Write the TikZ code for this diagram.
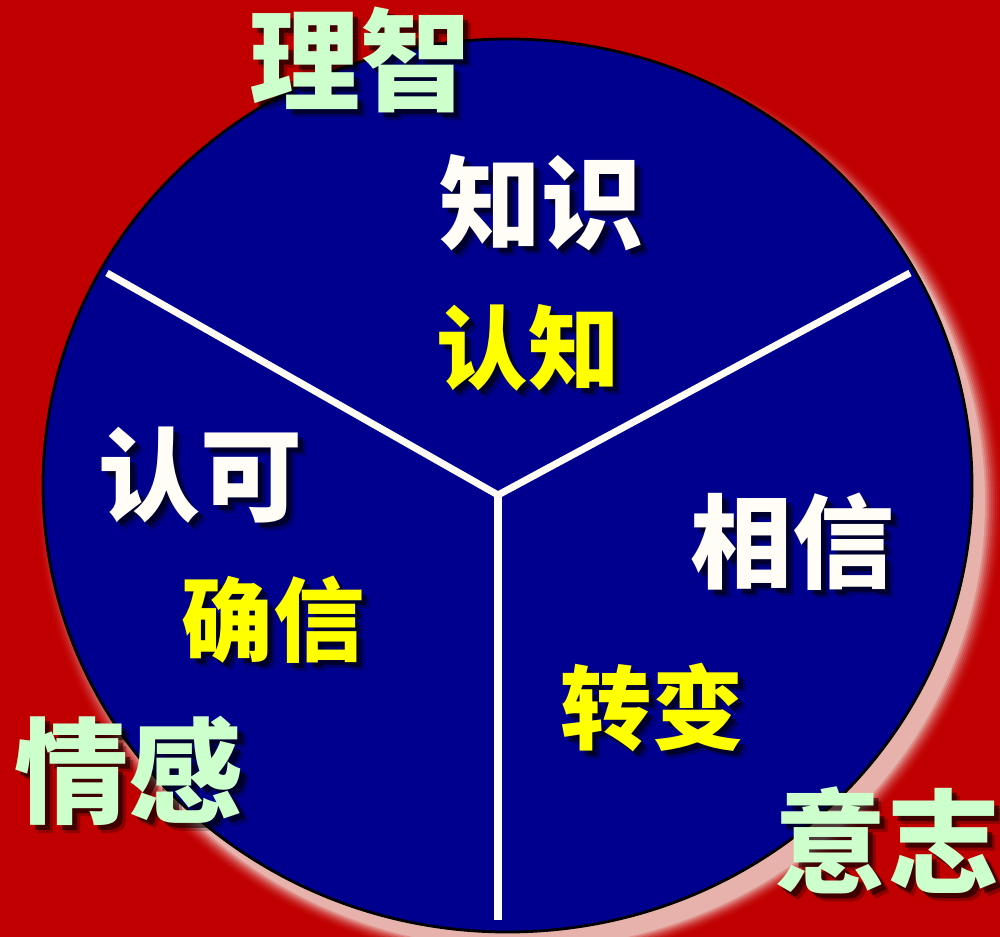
\documentclass[tikz,border=0pt]{standalone}
\usepackage{fontspec}
\newfontfamily\cjk{Noto Sans CJK SC}
\usetikzlibrary{positioning}

\definecolor{bgred}{RGB}{192,0,0}
\definecolor{discblue}{RGB}{0,0,142}
\definecolor{palegreen}{RGB}{204,255,204}
\definecolor{glowpink}{RGB}{232,178,172}
\definecolor{offwhite}{RGB}{255,253,245}
\definecolor{brightyellow}{RGB}{255,255,0}

\begin{document}
\begin{tikzpicture}[x=0.01cm,y=-0.01cm,
    word/.style={inner sep=0pt},
    shade/.style={word, text=black},
    divider/.style={draw=offwhite, line width=2pt}]
    % Frame and red background
    \useasboundingbox (0,0) rectangle (1000,937);
    \clip (0,0) rectangle (1000,937);
    \fill[bgred] (0,0) rectangle (1000,937);

    % Pink glow behind the disc
    \foreach \i [evaluate=\i as \pct using int(\i*\i)] in {0,...,10}
        \fill[glowpink!\pct!bgred] (520,502) ellipse [x radius=485-2*\i, y radius=462-1.5*\i];

    % Blue disc and its three parts
    \coordinate (disc) at (507.5,485.5);
    \draw[fill=discblue, line width=0.8pt] (disc) ellipse [x radius=464.5, y radius=446.5];
    \coordinate (hub) at (498,495);
    \coordinate (endL) at (107,273);
    \coordinate (endR) at (910,273);
    \coordinate (endB) at (498,920);
    \draw[divider] (hub) -- (endL);
    \draw[divider] (hub) -- (endR);
    \draw[divider] (hub) -- (endB);

    % Words, each with a drop shadow
    \foreach \nm/\x/\y/\sz/\col/\txt in {
        lizhi/360/60/31.5/palegreen/理智,
        zhishi/541/203/29/offwhite/知识,
        renzhi/528/348/26/brightyellow/认知,
        renke/200/475/29/offwhite/认可,
        quexin/273/620/26/brightyellow/确信,
        xiangxin/792/542/29/offwhite/相信,
        zhuanbian/652/708/26/brightyellow/转变,
        qinggan/129/771/32.5/palegreen/情感,
        yizhi/887/840/32/palegreen/意志}
    {
        \node[shade, opacity=0.25, font=\cjk\bfseries\fontsize{\sz pt}{\sz pt}\selectfont] at (\x+8,\y+8) {\txt};
        \node[shade, opacity=0.55, font=\cjk\bfseries\fontsize{\sz pt}{\sz pt}\selectfont] at (\x+5,\y+5) {\txt};
        \node[word, text=\col, font=\cjk\bfseries\fontsize{\sz pt}{\sz pt}\selectfont] (\nm) at (\x,\y) {\txt};
    }
\end{tikzpicture}
\end{document}
